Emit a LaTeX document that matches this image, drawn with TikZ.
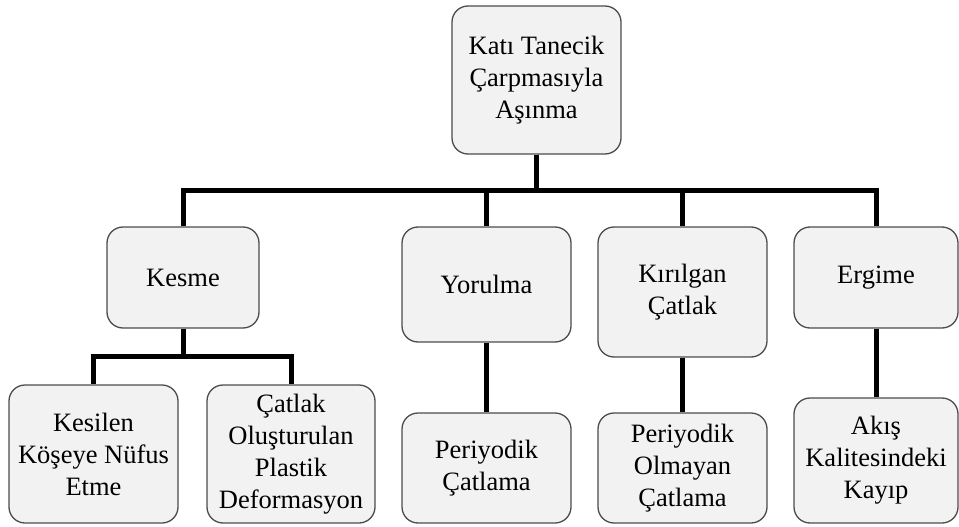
\documentclass[tikz,border=0pt]{standalone}
\usepackage{fontspec}
\setmainfont{Liberation Serif}
\tikzset{
    kutu/.style={draw=black!70, line width=1.3pt, fill=black!5, rounded corners=16pt,
        align=center, inner sep=2pt, font=\fontsize{26.5}{32}\selectfont},
    baglanti/.style={line width=5pt}
}
\begin{document}
\begin{tikzpicture}[x=1pt, y=-1pt]
    \useasboundingbox (0,0) rectangle (959,527);
    \def\busy{190}
    \def\altbusy{356}

    % Top box
    \node[kutu, minimum width=169pt, minimum height=148pt] (kok) at (536.5,80) {Katı Tanecik\\Çarpmasıyla\\Aşınma};

    % Second row
    \node[kutu, minimum width=152pt, minimum height=101pt] (kesme) at (183,277.5) {Kesme};
    \node[kutu, minimum width=169pt, minimum height=115pt] (yorulma) at (486.5,284.5) {Yorulma};
    \node[kutu, minimum width=169pt, minimum height=130pt] (kirilgan) at (682.5,292) {Kırılgan\\Çatlak};
    \node[kutu, minimum width=164pt, minimum height=101pt] (ergime) at (876,277.5) {Ergime};

    % Bottom row
    \node[kutu, minimum width=169pt, minimum height=138pt] (kesilen) at (93.5,454) {Kesilen\\Köşeye Nüfus\\Etme};
    \node[kutu, minimum width=168pt, minimum height=138pt] (plastik) at (291,454) {Çatlak\\Oluşturulan\\Plastik\\Deformasyon};
    \node[kutu, minimum width=169pt, minimum height=110pt] (periyodik) at (486.5,468) {Periyodik\\Çatlama};
    \node[kutu, minimum width=169pt, minimum height=110pt] (olmayan) at (682.5,468) {Periyodik\\Olmayan\\Çatlama};
    \node[kutu, minimum width=164pt, minimum height=125pt] (akis) at (876,460.5) {Akış\\Kalitesindeki\\Kayıp};

    % Main bus
    \coordinate (bus) at (0,\busy);
    \foreach \n in {kesme, yorulma, kirilgan, ergime}
        \draw[baglanti] (kok.south) -- (kok.south |- bus) -| (\n.north);

    % Bus under Kesme
    \coordinate (altbus) at (0,\altbusy);
    \foreach \n in {kesilen, plastik}
        \draw[baglanti] (kesme.south) -- (kesme.south |- altbus) -| (\n.north);

    % Single links
    \draw[baglanti] (yorulma.south) -- (periyodik.north);
    \draw[baglanti] (kirilgan.south) -- (olmayan.north);
    \draw[baglanti] (ergime.south) -- (akis.north);
\end{tikzpicture}
\end{document}
